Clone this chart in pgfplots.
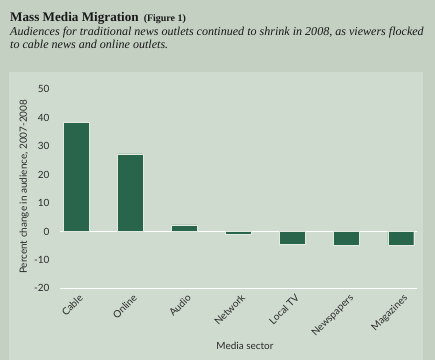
\documentclass[border=0pt]{standalone}
\usepackage{pgfplots}
\pgfplotsset{compat=1.18}
\usepackage{fontspec}
\setmainfont{Liberation Serif}
\newfontfamily\labfont{Lato}
\definecolor{outerbg}{HTML}{C3D0C2}
\definecolor{panelbg}{HTML}{D0DBCF}
\definecolor{bargreen}{HTML}{28654A}
\definecolor{bartrim}{HTML}{E2EAE1}
\definecolor{labgray}{HTML}{2B2B2B}
\begin{document}
\begin{tikzpicture}
\fill[outerbg] (0bp,0bp) rectangle (435bp,360bp);
\fill[panelbg] (9.3bp,0bp) rectangle (423bp,288bp);
\node[anchor=base west, inner sep=0pt, text=black!90] at (10bp,338bp)
  {\fontsize{13.2}{15}\selectfont\bfseries Mass Media Migration\hspace{5bp}{\fontsize{10}{12}\selectfont(Figure 1)}};
\node[anchor=base west, inner sep=0pt, text=black!90] at (10bp,324bp)
  {\fontsize{12.1}{14}\selectfont\itshape Audiences for traditional news outlets continued to shrink in 2008, as viewers flocked};
\node[anchor=base west, inner sep=0pt, text=black!90] at (10bp,311bp)
  {\fontsize{12.1}{14}\selectfont\itshape to cable news and online outlets.};
\begin{axis}[
  at={(60bp,71.7bp)}, anchor=south west,
  scale only axis, width=357bp, height=199bp,
  xmin=-0.3, xmax=6.3, ymin=-20, ymax=50,
  ytick={-20,-10,0,10,20,30,40,50},
  xtick={0,1,2,3,4,5,6},
  xticklabels={Cable,Online,Audio,Network,Local TV,Newspapers,Magazines},
  axis line style={draw=none},
  major tick length=0pt,
  tick label style={font=\labfont\fontsize{10}{12}\selectfont, text=labgray},
  /pgf/number format/assume math mode=true,
  yticklabel style={xshift=-7bp},
  xticklabel style={rotate=45, anchor=north east, inner sep=1pt, xshift=-1bp, yshift=-4bp},
  extra y ticks={-20,0},
  extra y tick labels={},
  extra y tick style={grid=major, major grid style={white, line width=1.1pt}},
  ylabel={Percent change in audience, 2007-2008},
  ylabel style={font=\labfont\fontsize{10}{12}\selectfont, text=labgray, at={(axis description cs:-0.087,0.51)}, anchor=south, inner sep=0pt},
  xlabel={Media sector},
  xlabel style={font=\labfont\fontsize{10}{12}\selectfont, text=labgray, at={(axis description cs:0.518,0)}, anchor=north, yshift=-50bp},
  clip=false,
]
\addplot[ybar, bar width=0.48, fill=bargreen, draw=bartrim, line width=0.5pt]
  coordinates {(0,38.3) (1,27.3) (2,2.3) (3,-1.0) (4,-4.5) (5,-4.8) (6,-5.0)};
\end{axis}
\pgfresetboundingbox
\useasboundingbox (0bp,0bp) rectangle (435bp,360bp);
\end{tikzpicture}
\end{document}
